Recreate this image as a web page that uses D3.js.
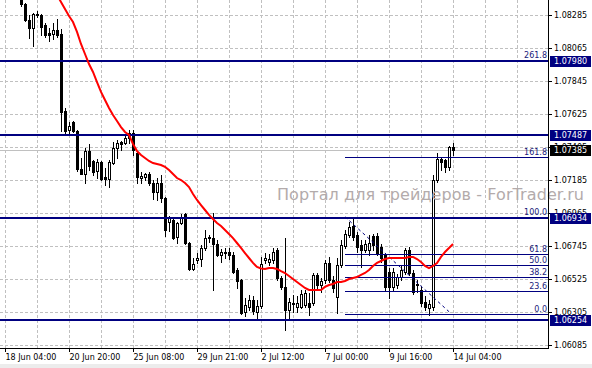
<!DOCTYPE html>
<html>
<head>
<meta charset="utf-8">
<script src="https://cdn.jsdelivr.net/npm/d3@7"></script>
<style>
  body { margin: 0; background: #fff; }
  svg { display: block; }
  text { font-family: "DejaVu Sans", sans-serif; }
</style>
</head>
<body>
<div id="chart"></div>
<script>
// H4 bars (bar 0 is the left-most one)
var barOpen = [
  1.08405,1.08358,1.08252,1.08198,1.08292,1.08285,1.08218,1.08165,1.08158,1.08185,
  1.08158,1.07645,1.07518,1.07572,1.07512,1.07258,1.07225,1.07378,1.07312,1.07245,
  1.07305,1.07205,1.07192,1.07298,1.07398,1.07438,1.07432,1.07465,1.07498,1.07365,
  1.07198,1.07205,1.07225,1.07165,1.07105,1.07165,1.07065,1.06905,1.06918,1.06805,
  1.06898,1.06958,1.06765,1.06592,1.06652,1.06658,1.06732,1.06805,1.06798,1.06758,
  1.06685,1.06705,1.06705,1.06685,1.06585,1.06518,1.06305,1.06338,1.06385,1.06305,
  1.06345,1.06652,1.06638,1.06652,1.06718,1.06532,1.06472,1.06318,1.06365,1.06338,
  1.06338,1.06352,1.06365,1.06365,1.06552,1.06485,1.06518,1.06632,1.06518,1.06405,
  1.06618,1.06745,1.06818,1.06878,1.06818,1.06752,1.06718,1.06718,1.06812,1.06812,
  1.06738,1.06685,1.06572,1.06472,1.06485,1.06538,1.06572,1.06718,1.06565,1.06492,
  1.06452,1.06372,1.06332,1.06338,1.07185,1.07325,1.07318,1.07272,1.07405];
var barHigh = [
  1.08438,1.08365,1.08285,1.08298,1.08312,1.08292,1.08232,1.08198,1.08232,1.08258,
  1.08192,1.07665,1.07572,1.07578,1.07518,1.07332,1.07398,1.07425,1.07318,1.07325,
  1.07312,1.07265,1.07318,1.07438,1.07452,1.07445,1.07485,1.07518,1.07518,1.07372,
  1.07238,1.07232,1.07238,1.07185,1.07198,1.07218,1.07072,1.06945,1.06925,1.06905,
  1.06958,1.06965,1.06772,1.06665,1.06698,1.06752,1.06852,1.06818,1.06965,1.06785,
  1.06725,1.06732,1.06732,1.06705,1.06598,1.06525,1.06398,1.06418,1.06412,1.06385,
  1.06672,1.06698,1.06692,1.06732,1.06732,1.06545,1.06798,1.06398,1.06418,1.06412,
  1.06452,1.06452,1.06432,1.06565,1.06565,1.06532,1.06652,1.06672,1.06545,1.06665,
  1.06785,1.06852,1.06905,1.06925,1.06838,1.06785,1.06785,1.06818,1.06825,1.06832,
  1.06758,1.06698,1.06598,1.06598,1.06558,1.06618,1.06732,1.06738,1.06585,1.06518,
  1.06472,1.06412,1.06385,1.07218,1.07365,1.07338,1.07325,1.07412,1.07432];
var barLow = [
  1.08345,1.08245,1.08132,1.08078,1.08272,1.08152,1.08138,1.08112,1.08125,1.08138,
  1.07512,1.07498,1.07498,1.07505,1.07245,1.07225,1.07165,1.07252,1.07218,1.07198,
  1.07185,1.07152,1.07138,1.07292,1.07332,1.07385,1.07425,1.07432,1.07352,1.07165,
  1.07165,1.07185,1.07152,1.07058,1.07052,1.07038,1.06812,1.06845,1.06792,1.06765,
  1.06892,1.06758,1.06585,1.06585,1.06632,1.06612,1.06718,1.06772,1.06452,1.06678,
  1.06638,1.06665,1.06658,1.06565,1.06465,1.06292,1.06278,1.06318,1.06292,1.06265,
  1.06332,1.06632,1.06618,1.06632,1.06518,1.06458,1.06185,1.06252,1.06305,1.06305,
  1.06332,1.06338,1.06285,1.06352,1.06465,1.06438,1.06498,1.06505,1.06438,1.06298,
  1.06605,1.06732,1.06805,1.06785,1.06705,1.06605,1.06705,1.06685,1.06718,1.06685,
  1.06638,1.06452,1.06398,1.06452,1.06465,1.06518,1.06558,1.06552,1.06425,1.06438,
  1.06345,1.06318,1.06285,1.06318,1.07172,1.07252,1.07238,1.07252,1.07352];
var barClose = [
  1.08358,1.08252,1.08198,1.08292,1.08282,1.08205,1.08152,1.08155,1.08185,1.08152,
  1.07638,1.07512,1.07545,1.07512,1.07258,1.07225,1.07378,1.07278,1.07238,1.07305,
  1.07192,1.07192,1.07305,1.07398,1.07432,1.07428,1.07465,1.07498,1.07385,1.07205,
  1.07212,1.07225,1.07165,1.07105,1.07165,1.07065,1.06852,1.06932,1.06798,1.06898,
  1.06932,1.06765,1.06592,1.06625,1.06665,1.06732,1.06798,1.06798,1.06758,1.06685,
  1.06705,1.06698,1.06685,1.06572,1.06512,1.06298,1.06352,1.06385,1.06312,1.06345,
  1.06625,1.06665,1.06658,1.06705,1.06532,1.06472,1.06318,1.06372,1.06358,1.06365,
  1.06425,1.06432,1.06338,1.06552,1.06485,1.06512,1.06632,1.06518,1.06465,1.06618,
  1.06752,1.06825,1.06872,1.06805,1.06738,1.06718,1.06758,1.06765,1.06752,1.06698,
  1.06665,1.06472,1.06472,1.06572,1.06538,1.06585,1.06718,1.06565,1.06438,1.06485,
  1.06365,1.06338,1.06358,1.07185,1.07325,1.07305,1.07272,1.07405,1.07385];

// moving average (red), starts at bar 9
var maStart = 9;
var maValues = [
  1.08418,1.08372,1.08325,1.08278,1.08238,1.08172,1.08092,1.08025,1.07958,1.07905,
  1.07838,1.07772,1.07718,1.07665,1.07618,1.07578,1.07538,1.07505,1.07485,1.07425,
  1.07378,1.07352,1.07332,1.07312,1.07298,1.07292,1.07285,1.07272,1.07252,1.07225,
  1.07198,1.07185,1.07165,1.07138,1.07092,1.07052,1.07018,1.06985,1.06952,1.06925,
  1.06898,1.06878,1.06852,1.06825,1.06798,1.06765,1.06732,1.06698,1.06665,1.06632,
  1.06605,1.06595,1.06592,1.06598,1.06598,1.06592,1.06578,1.06565,1.06545,1.06525,
  1.06505,1.06485,1.06465,1.06452,1.06452,1.06452,1.06452,1.06472,1.06485,1.06492,
  1.06505,1.06505,1.06512,1.06525,1.06532,1.06538,1.06552,1.06565,1.06585,1.06612,
  1.06632,1.06645,1.06658,1.06665,1.06665,1.06665,1.06665,1.06665,1.06672,1.06672,
  1.06658,1.06638,1.06612,1.06598,1.06612,1.06632,1.06672,1.06705,1.06732,1.06758];

var priceTicks = [1.08285,1.08065,1.07845,1.07625,1.07405,1.07185,1.06965,1.06745,1.06525,1.06305,1.06085];
var timeTickBars = [-4,12,28,44,60,76,92,108];
var timeLabels = ["18 Jun 04:00","20 Jun 20:00","25 Jun 08:00","29 Jun 21:00","2 Jul 12:00","7 Jul 00:00","9 Jul 16:00","14 Jul 04:00"];

var levelLines = [1.07980, 1.07487, 1.06934, 1.06254];
var bidPrice = 1.07385;

var fibZero = 1.06295, fibHundred = 1.06940;
var fibStartBar = 81, fibEndBar = 107.5;
var fibRatios = [0, 23.6, 38.2, 50, 61.8, 100, 161.8, 261.8];

var width = 592, height = 368;
var plotRight = 548, plotBottom = 348;

var x = d3.scaleLinear().domain([0, 108]).range([21, 453]);
var y = d3.scaleLinear().domain([1.06085, 1.08285]).range([345, 15]);

var svg = d3.select("#chart").append("svg")
  .attr("width", width).attr("height", height);

svg.append("rect").attr("width", width).attr("height", height).attr("fill", "#fff");
svg.append("rect").attr("y", 364).attr("width", width).attr("height", 4).attr("fill", "#ececec");

svg.append("clipPath").attr("id", "plot")
  .append("rect").attr("width", plotRight).attr("height", plotBottom);

var plot = svg.append("g").attr("clip-path", "url(#plot)");

// grid
var gridBars = d3.range(-4, 130, 8).filter(b => x(b) < plotRight);
plot.selectAll(".vgrid").data(gridBars).enter().append("line")
  .attr("x1", d => Math.round(x(d)) + 0.5).attr("x2", d => Math.round(x(d)) + 0.5)
  .attr("y1", 0).attr("y2", plotBottom)
  .attr("stroke", "#c0c0c0").attr("stroke-dasharray", "3,2");
plot.selectAll(".hgrid").data(priceTicks).enter().append("line")
  .attr("x1", 0).attr("x2", plotRight)
  .attr("y1", d => Math.round(y(d)) + 0.5).attr("y2", d => Math.round(y(d)) + 0.5)
  .attr("stroke", "#c0c0c0").attr("stroke-dasharray", "3,2");

// watermark
svg.append("text")
  .attr("x", 277).attr("y", 200)
  .attr("fill", "#b3abab")
  .attr("textLength", 307)
  .attr("lengthAdjust", "spacing")
  .style("font-family", "'DejaVu Sans', sans-serif")
  .style("font-size", "16px")
  .text("Портал для трейдеров - ForTrader.ru");

// bid line
plot.append("line")
  .attr("x1", 0).attr("x2", plotRight)
  .attr("y1", Math.round(y(bidPrice)) + 0.5).attr("y2", Math.round(y(bidPrice)) + 0.5)
  .attr("stroke", "#c0c0c0");

// candles
var bars = d3.range(barOpen.length).map(i => ({
  i: i, o: barOpen[i], h: barHigh[i], l: barLow[i], c: barClose[i]
}));
var candle = plot.selectAll(".candle").data(bars).enter().append("g");
candle.append("rect")
  .attr("x", d => Math.round(x(d.i)))
  .attr("y", d => Math.round(y(d.h)))
  .attr("width", 1)
  .attr("height", d => Math.round(y(d.l)) - Math.round(y(d.h)) + 1)
  .attr("fill", "#000");
candle.append("rect")
  .attr("x", d => Math.round(x(d.i)) - 1)
  .attr("y", d => Math.round(y(Math.max(d.o, d.c))))
  .attr("width", 3)
  .attr("height", d => Math.max(1, Math.round(y(Math.min(d.o, d.c))) - Math.round(y(Math.max(d.o, d.c))) + 1))
  .attr("fill", "#000");
candle.filter(d => d.c > d.o).append("rect")
  .attr("x", d => Math.round(x(d.i)))
  .attr("y", d => Math.round(y(d.c)) + 1)
  .attr("width", 1)
  .attr("height", d => Math.max(0, Math.round(y(d.o)) - Math.round(y(d.c)) - 1))
  .attr("fill", "#fff");

// horizontal levels
plot.selectAll(".level").data(levelLines).enter().append("rect")
  .attr("x", 0).attr("width", plotRight)
  .attr("y", d => Math.round(y(d)) - 1).attr("height", 2)
  .attr("fill", "#000080");

// fibonacci
var fibPrice = r => fibZero + (fibHundred - fibZero) * r / 100;
plot.selectAll(".fib").data(fibRatios).enter().append("line")
  .attr("x1", Math.round(x(fibStartBar))).attr("x2", plotRight)
  .attr("y1", d => Math.round(y(fibPrice(d))) + 0.5)
  .attr("y2", d => Math.round(y(fibPrice(d))) + 0.5)
  .attr("stroke", "#000080");
plot.append("line")
  .attr("x1", x(fibStartBar)).attr("y1", y(fibHundred))
  .attr("x2", x(fibEndBar)).attr("y2", y(fibZero))
  .attr("stroke", "#000080").attr("stroke-dasharray", "3,3");

// moving average
var ma = d3.line()
  .x((d, k) => x(maStart + k))
  .y(d => y(d));
plot.append("path")
  .attr("d", ma(maValues))
  .attr("fill", "none")
  .attr("stroke", "#ff0000")
  .attr("stroke-width", 2);

// fib labels
svg.selectAll(".fibtxt").data(fibRatios).enter().append("text")
  .attr("x", plotRight - 1)
  .attr("y", d => Math.round(y(fibPrice(d))) - 2)
  .attr("text-anchor", "end")
  .attr("fill", "#20207a")
  .style("font-size", "8px")
  .text(d => d.toFixed(1));

// axes
var xAxis = d3.axisBottom(x)
  .tickValues(timeTickBars)
  .tickFormat((d, k) => timeLabels[k])
  .tickSize(4);
var gx = svg.append("g").attr("transform", "translate(0," + plotBottom + ")").call(xAxis);
gx.select(".domain").remove();
gx.selectAll("text").attr("text-anchor", "start").attr("x", 0).attr("y", 6)
  .style("font-family", "'DejaVu Sans', sans-serif").style("font-size", "8px").attr("fill", "#000");

var yAxis = d3.axisRight(y)
  .tickValues(priceTicks)
  .tickFormat(d3.format(".5f"))
  .tickSize(4);
var gy = svg.append("g").attr("transform", "translate(" + plotRight + ",0)").call(yAxis);
gy.select(".domain").remove();
gy.selectAll("text").attr("x", 6)
  .style("font-family", "'DejaVu Sans', sans-serif").style("font-size", "8px").attr("fill", "#000");

svg.append("line").attr("x1", 0).attr("x2", plotRight + 1)
  .attr("y1", plotBottom + 0.5).attr("y2", plotBottom + 0.5).attr("stroke", "#000");
svg.append("line").attr("x1", plotRight + 0.5).attr("x2", plotRight + 0.5)
  .attr("y1", 0).attr("y2", plotBottom).attr("stroke", "#000");

// price tags
var tags = levelLines.map(v => ({ v: v, bg: "#000080" })).concat([{ v: bidPrice, bg: "#000" }]);
var tag = svg.selectAll(".tag").data(tags).enter().append("g");
tag.append("rect")
  .attr("x", 550).attr("width", 41)
  .attr("y", d => Math.round(y(d.v)) - 5).attr("height", 11)
  .attr("fill", d => d.bg);
tag.append("text")
  .attr("x", 554).attr("y", d => Math.round(y(d.v)) + 3)
  .attr("fill", "#fff")
  .style("font-size", "8px")
  .text(d => d3.format(".5f")(d.v));
</script>
</body>
</html>
